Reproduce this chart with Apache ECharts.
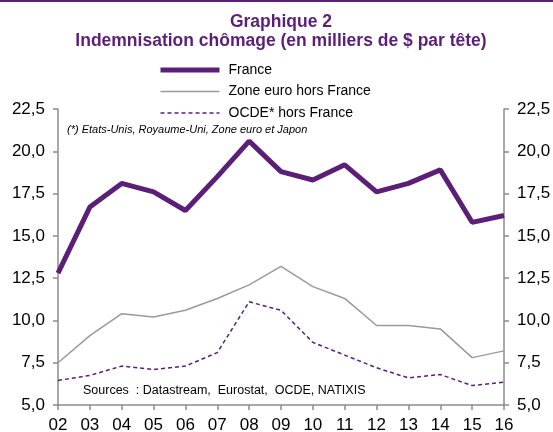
<!DOCTYPE html>
<html>
<head>
<meta charset="utf-8">
<script src="https://cdn.jsdelivr.net/npm/echarts@6/dist/echarts.min.js"></script>
<style>
  html, body { margin: 0; padding: 0; background: #fff; }
  #chart { width: 553px; height: 432px; }
</style>
</head>
<body>
<div id="chart"></div>
<script>
// Années (abscisse)
const years = ['02', '03', '04', '05', '06', '07', '08', '09', '10', '11', '12', '13', '14', '15', '16'];

// Indemnisation chômage, milliers de $ par tête
const france = [12.8, 16.7, 18.1, 17.6, 16.5, 18.5, 20.6, 18.8, 18.3, 19.2, 17.6, 18.1, 18.9, 15.8, 16.2];
const zoneEuro = [7.5, 9.1, 10.4, 10.2, 10.6, 11.3, 12.1, 13.2, 12.0, 11.3, 9.7, 9.7, 9.5, 7.8, 8.2];
const ocde = [6.45, 6.75, 7.3, 7.1, 7.3, 8.1, 11.1, 10.6, 8.7, 7.95, 7.2, 6.6, 6.8, 6.15, 6.35];

const purple = '#5b1f78';
const grey = '#9a9a9a';
const axisGrey = '#8c8c8c';
const font = '"Liberation Sans", Arial, sans-serif';

const chart = echarts.init(document.getElementById('chart'));

// format français : virgule décimale
function fmt(v) {
    return v.toFixed(1).replace('.', ',');
}

function yAxis(pos) {
    return {
        type: 'value',
        position: pos,
        min: 5,
        max: 22.5,
        interval: 2.5,
        axisLine: { show: true, lineStyle: { color: axisGrey, width: 1.5 } },
        axisTick: { show: true, length: 5, lineStyle: { color: axisGrey, width: 1.5 } },
        splitLine: { show: false },
        axisLabel: {
            formatter: fmt,
            color: '#000',
            fontSize: 17,
            fontFamily: font,
            margin: 13
        }
    };
}

const option = {
    animation: false,
    backgroundColor: '#fff',
    title: [
        {
            text: 'Graphique 2',
            left: 276,
            textAlign: 'center',
            top: 8,
            textStyle: { color: purple, fontSize: 17.5, fontWeight: 'bold', fontFamily: font }
        },
        {
            text: 'Indemnisation chômage (en milliers de $ par tête)',
            left: 276,
            textAlign: 'center',
            top: 27,
            textStyle: { color: purple, fontSize: 17.5, fontWeight: 'bold', fontFamily: font }
        }
    ],
    legend: {
        orient: 'vertical',
        left: 153,
        top: 58,
        itemWidth: 59,
        itemHeight: 14,
        itemGap: 7.5,
        itemStyle: { color: 'transparent', borderWidth: 0, opacity: 0 },
        textStyle: { color: '#000', fontSize: 14, fontFamily: font, padding: [0, 0, 0, 4] },
        data: [
            { name: 'France', lineStyle: { width: 5 } },
            { name: 'Zone euro hors France', lineStyle: { width: 1.5 } },
            { name: 'OCDE* hors France', lineStyle: { width: 1.5 } }
        ]
    },
    grid: {
        left: 58,
        right: 49,
        top: 109,
        bottom: 27,
        outerBoundsMode: 'none'
    },
    xAxis: {
        type: 'category',
        data: years,
        boundaryGap: false,
        axisLine: { show: true, lineStyle: { color: axisGrey, width: 1.5 } },
        axisTick: { show: true, length: 5, alignWithLabel: true, lineStyle: { color: axisGrey, width: 1.5 } },
        axisLabel: { color: '#000', fontSize: 17, fontFamily: font, margin: 12, interval: 0 }
    },
    yAxis: [yAxis('left'), yAxis('right')],
    graphic: [
        {
            type: 'rect',
            shape: { x: 0, y: 0, width: 553, height: 2 },
            style: { fill: purple }
        },
        {
            type: 'text',
            left: 67,
            top: 124,
            style: {
                text: '(*) Etats-Unis, Royaume-Uni, Zone euro et Japon',
                fill: '#000',
                font: 'italic 11px ' + font
            }
        },
        {
            type: 'text',
            left: 83,
            top: 384,
            style: {
                text: 'Sources  : Datastream,  Eurostat,  OCDE, NATIXIS',
                fill: '#000',
                font: '12.5px ' + font
            }
        }
    ],
    series: [
        {
            name: 'France',
            type: 'line',
            data: france,
            symbol: 'none',
            lineStyle: { color: purple, width: 5 },
            itemStyle: { color: purple },
            z: 3
        },
        {
            name: 'Zone euro hors France',
            type: 'line',
            data: zoneEuro,
            symbol: 'none',
            lineStyle: { color: grey, width: 1.5 },
            itemStyle: { color: grey }
        },
        {
            name: 'OCDE* hors France',
            type: 'line',
            data: ocde,
            symbol: 'none',
            lineStyle: { color: purple, width: 1.5, type: [4, 3] },
            itemStyle: { color: purple }
        }
    ]
};

chart.setOption(option);
</script>
</body>
</html>
